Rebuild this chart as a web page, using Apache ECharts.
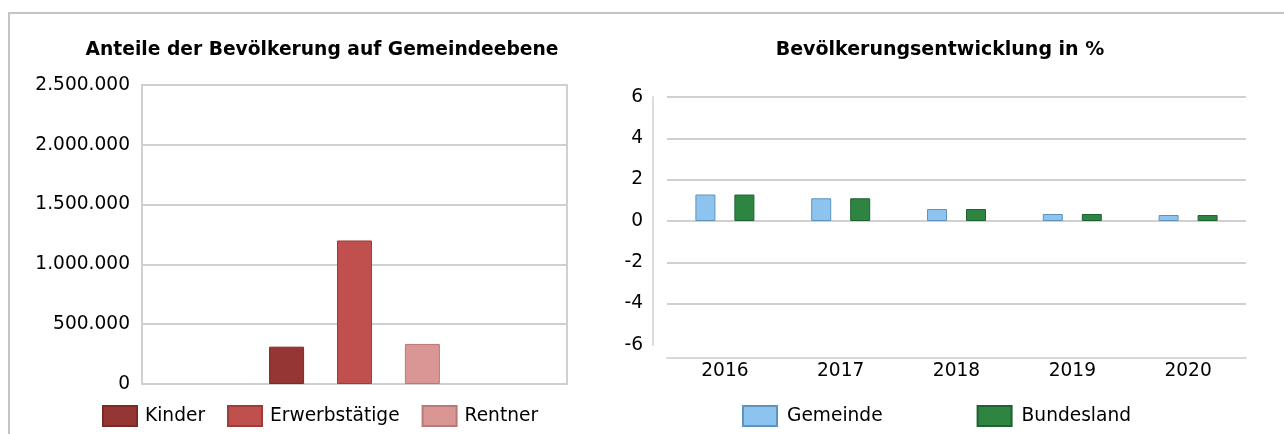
<!DOCTYPE html>
<html lang="de">
<head>
    <meta charset="UTF-8">
    <title>Bevölkerung</title>
    <script src="https://cdn.jsdelivr.net/npm/echarts@6/dist/echarts.min.js"></script>
    <style>
        * { margin: 0; padding: 0; }
        body { background: #fff; }
        #frame {
            position: absolute;
            left: 8px;
            top: 12px;
            width: 1276px;
            height: 422px;
            border-top: 2px solid #c4c4c4;
            border-left: 2px solid #c4c4c4;
        }
        #main { position: absolute; left: 0; top: 0; width: 1284px; height: 434px; }
    </style>
</head>
<body>
    <div id="frame"></div>
    <div id="main"></div>
    <script>
        // linkes Diagramm: Anteile der Bevölkerung
        var groups = ['Kinder', 'Erwerbstätige', 'Rentner'];
        var groupValues = [312000, 1200000, 335000];
        var groupColors = ['#963634', '#C0504D', '#DA9694'];
        var groupBorders = ['#7a2a28', '#9c3d3a', '#b87a78'];

        // rechtes Diagramm: Entwicklung in %
        var years = ['2016', '2017', '2018', '2019', '2020'];
        var gemeinde = [1.28, 1.1, 0.58, 0.34, 0.29];
        var bundesland = [1.28, 1.1, 0.58, 0.34, 0.29];

        var font = 'DejaVu Sans, Verdana, sans-serif';

        function dots(v) {
            return String(v).replace(/\B(?=(\d{3})+(?!\d))/g, '.');
        }

        var series = [];
        for (var i = 0; i < groups.length; i++) {
            series.push({
                name: groups[i],
                type: 'bar',
                xAxisIndex: 0,
                yAxisIndex: 0,
                barWidth: 35,
                barGap: '94%',
                data: [groupValues[i]],
                itemStyle: { color: groupColors[i], borderColor: groupBorders[i], borderWidth: 1 }
            });
        }
        series.push({
            name: 'Gemeinde', type: 'bar', xAxisIndex: 1, yAxisIndex: 1,
            barWidth: 20, barGap: '95%', data: gemeinde,
            itemStyle: { color: '#8DC4EF', borderColor: '#5f93bd', borderWidth: 1 }
        });
        series.push({
            name: 'Bundesland', type: 'bar', xAxisIndex: 1, yAxisIndex: 1,
            barWidth: 20, barGap: '95%', data: bundesland,
            itemStyle: { color: '#2E8541', borderColor: '#1d6230', borderWidth: 1 }
        });

        var chart = echarts.init(document.getElementById('main'));
        chart.setOption({
            animation: false,
            textStyle: { fontFamily: font },
            title: [
                { text: 'Anteile der Bevölkerung auf Gemeindeebene', left: 317, top: 36, textAlign: 'center',
                  textStyle: { fontSize: 18.7, fontWeight: 'bold', color: '#000', fontFamily: font } },
                { text: 'Bevölkerungsentwicklung in %', left: 935, top: 36, textAlign: 'center',
                  textStyle: { fontSize: 19, fontWeight: 'bold', color: '#000', fontFamily: font } }
            ],
            legend: [
                { data: groups, left: 102, top: 405, padding: 0, itemWidth: 34, itemHeight: 20, itemGap: 22, icon: 'rect',
                  textStyle: { fontSize: 18.6, color: '#000', padding: [0, 0, 0, 3] } },
                { data: ['Gemeinde', 'Bundesland'], left: 742, top: 405, padding: 0, itemWidth: 34, itemHeight: 20, itemGap: 94, icon: 'rect',
                  textStyle: { fontSize: 18.6, color: '#000', padding: [0, 0, 0, 5] } }
            ],
            grid: [
                { left: 142, right: 717, top: 85, bottom: 50, show: true, borderColor: '#d0d0d0', borderWidth: 2 },
                { left: 667, right: 38, top: 97, bottom: 89 }
            ],
            xAxis: [
                { type: 'category', gridIndex: 0, data: [''],
                  axisLine: { show: false }, axisTick: { show: false }, axisLabel: { show: false } },
                { type: 'category', gridIndex: 1, data: years, offset: 13,
                  axisLine: { show: true, onZero: false, lineStyle: { color: '#d8d8d8', width: 2 } },
                  axisTick: { show: false },
                  axisLabel: { fontSize: 18.6, color: '#000', margin: 4 } }
            ],
            yAxis: [
                { type: 'value', gridIndex: 0, min: 0, max: 2500000, interval: 500000,
                  axisLine: { show: false }, axisTick: { show: false },
                  axisLabel: { fontSize: 18.6, color: '#000', margin: 12, formatter: dots },
                  splitLine: { lineStyle: { color: '#d0d0d0', width: 2 } } },
                { type: 'value', gridIndex: 1, min: -6, max: 6, interval: 2, offset: 14,
                  axisLine: { show: true, lineStyle: { color: '#dcdcdc', width: 2 } },
                  axisTick: { show: false },
                  axisLabel: { fontSize: 18.6, color: '#000', margin: 10 },
                  splitLine: { showMinLine: false, lineStyle: { color: '#d0d0d0', width: 2 } } }
            ],
            series: series
        });
    </script>
</body>
</html>
